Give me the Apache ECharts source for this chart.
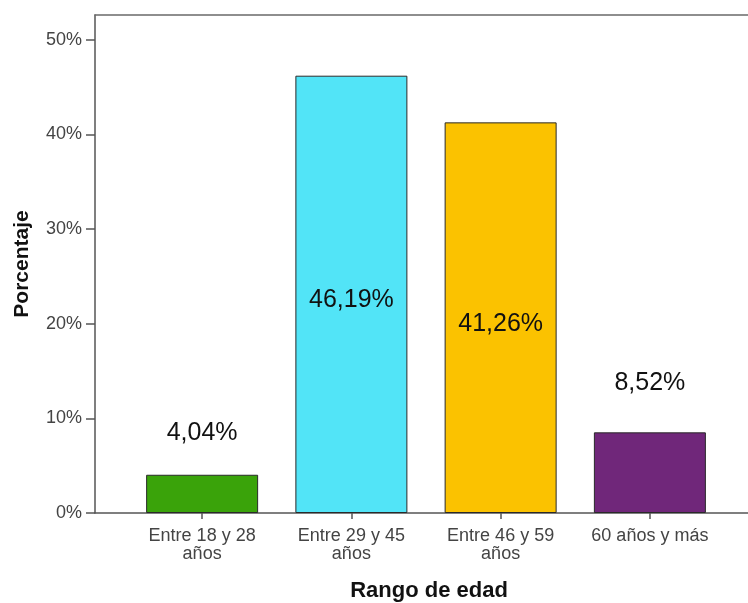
<!DOCTYPE html>
<html><head><meta charset="utf-8">
<script src="https://cdn.jsdelivr.net/npm/echarts@6/dist/echarts.min.js"></script>
<style>html,body{margin:0;padding:0;background:#fff}#c{width:748px;height:603px}</style>
</head><body><div id="c"></div>
<script>
const categories = ['Entre 18 y 28\naños', 'Entre 29 y 45\naños', 'Entre 46 y 59\naños', '60 años y más'];
const values = [4.04, 46.19, 41.26, 8.52];
const valueLabels = ['4,04%', '46,19%', '41,26%', '8,52%'];
const barColors = ['#3aa30a', '#52e4f7', '#fbc200', '#70277a'];
const yTicks = [0, 10, 20, 30, 40, 50];

const yMax = 52.6;
const chart = echarts.init(document.getElementById('c'));
const font = 'Liberation Sans, Arial, sans-serif';
const topDist = [29, 0, 0, 37];

const data = values.map((v, i) => {
  const inside = v > 20;
  return {
    value: v,
    itemStyle: { color: barColors[i], borderColor: '#2a2a2a', borderWidth: 1 },
    label: inside ? { position: 'inside', offset: [0, 6] } : { position: 'top', distance: topDist[i] }
  };
});

const lineStyle = { color: '#555', width: 1.5 };

chart.setOption({
  animation: false,
  grid: [
    { left: 95, right: 0, top: 15, bottom: 90 },
    { left: 127.5, right: 23.5, top: 15, bottom: 90 }
  ],
  xAxis: [
    { gridIndex: 0, type: 'value', min: 0, max: 1, position: 'bottom', axisLine: { show: true, lineStyle }, axisTick: { show: false }, axisLabel: { show: false }, splitLine: { show: false } },
    { gridIndex: 0, type: 'value', min: 0, max: 1, position: 'top', axisLine: { show: true, lineStyle: { color: '#6a6a6a', width: 1.5 } }, axisTick: { show: false }, axisLabel: { show: false }, splitLine: { show: false } },
    { gridIndex: 1, type: 'category', data: categories,
      axisLine: { show: false },
      axisTick: { show: true, alignWithLabel: true, length: 6, lineStyle },
      axisLabel: { color: '#444', fontSize: 18, fontFamily: font, lineHeight: 18, margin: 14, interval: 0, hideOverlap: false } }
  ],
  yAxis: [
    { gridIndex: 0, type: 'value', min: 0, max: yMax, interval: 10,
      axisLine: { show: true, lineStyle },
      axisTick: { show: true, length: 9, lineStyle },
      splitLine: { show: false },
      axisLabel: { color: '#444', fontSize: 18, fontFamily: font, margin: 13,
        formatter: v => yTicks.includes(v) ? v + '%' : '', showMaxLabel: false },
      name: 'Porcentaje', nameLocation: 'middle', nameGap: 62, nameRotate: 90,
      nameTextStyle: { fontSize: 21, fontWeight: 'bold', color: '#111', fontFamily: font } },
    { gridIndex: 1, type: 'value', min: 0, max: yMax, show: false }
  ],
  graphic: [
    { type: 'text', x: 429, y: 591, style: { text: 'Rango de edad', font: 'bold 22px ' + font, fill: '#111', textAlign: 'center', textVerticalAlign: 'middle' } }
  ],
  series: [{
    type: 'bar', xAxisIndex: 2, yAxisIndex: 1, barWidth: 112,
    data: data,
    label: { show: true, color: '#111', fontSize: 25, fontFamily: font,
      formatter: p => valueLabels[p.dataIndex] }
  }]
});
</script></body></html>
